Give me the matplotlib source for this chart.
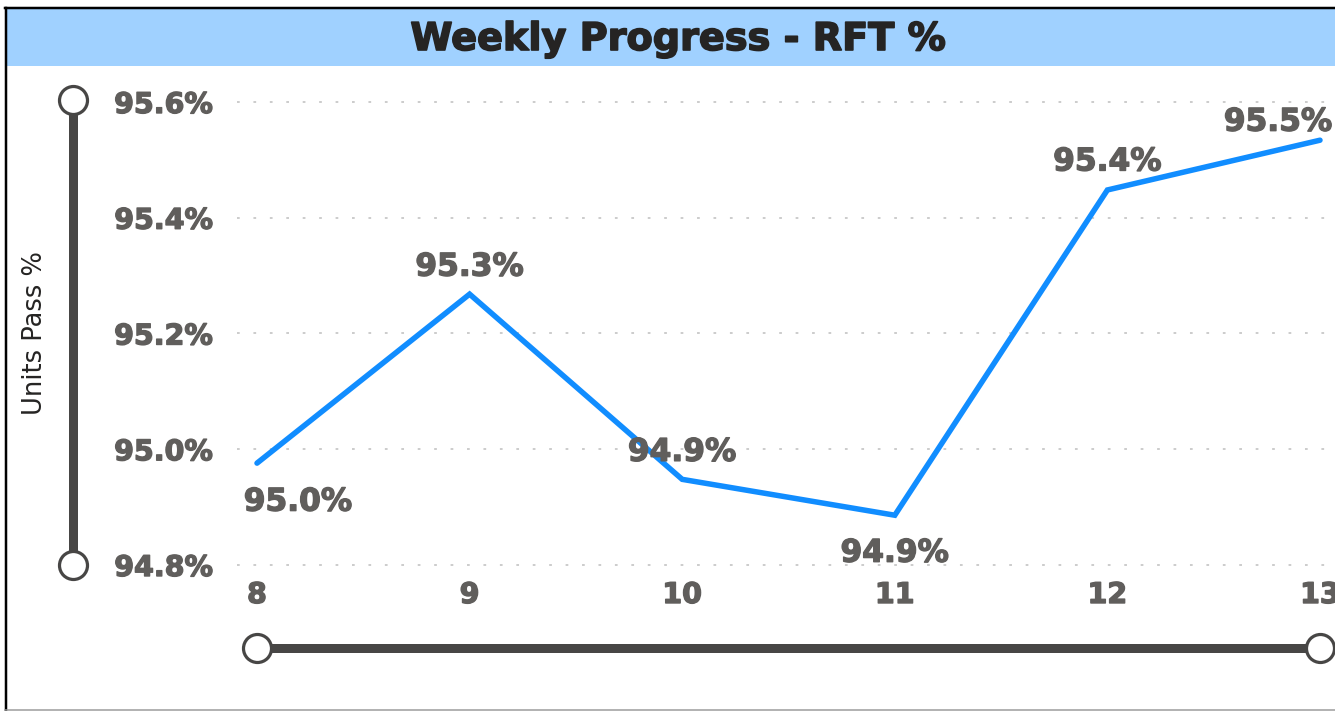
import matplotlib
matplotlib.use("Agg")
import matplotlib.pyplot as plt
import matplotlib.patheffects as pe
from matplotlib.lines import Line2D
from matplotlib.patches import Rectangle

weeks = [8, 9, 10, 11, 12, 13]
rft_pct = [94.976, 95.268, 94.948, 94.886, 95.448, 95.534]
label_texts = ["95.0%", "95.3%", "94.9%", "94.9%", "95.4%", "95.5%"]
y_ticks = [94.8, 95.0, 95.2, 95.4, 95.6]
title = "Weekly Progress - RFT %"
y_label = "Units Pass %"

W, H, DPI = 1335, 711, 100
fig = plt.figure(figsize=(W / DPI, H / DPI), dpi=DPI)
fig.patch.set_facecolor("white")

def fx(x):
    return x / W

def fy(y):
    return 1 - y / H

PT = 72 / DPI  # points per pixel
GRAY = "#605E5C"
heavy_gray = [pe.withStroke(linewidth=1.0, foreground=GRAY)]
heavy_dark = [pe.withStroke(linewidth=1.2, foreground="#252423")]

# border and title band
fig.add_artist(Rectangle((fx(6), fy(66)), fx(1335) - fx(6), fy(9) - fy(66),
                         transform=fig.transFigure, facecolor="#A0D1FF",
                         edgecolor="none", zorder=0))
fig.add_artist(Line2D([fx(5.5), fx(5.5)], [fy(8), fy(710)], transform=fig.transFigure,
                      color="black", lw=2.5 * PT))
fig.add_artist(Line2D([fx(5), fx(1340)], [fy(7.5), fy(7.5)], transform=fig.transFigure,
                      color="black", lw=2.5 * PT))
fig.add_artist(Line2D([fx(5), fx(1340)], [fy(709.5), fy(709.5)], transform=fig.transFigure,
                      color="#9a9a9a", lw=1.5 * PT))
fig.text(fx(679), fy(40), title, ha="center", va="center", fontsize=27.5,
         fontweight="bold", color="#252423", family="DejaVu Sans",
         path_effects=heavy_dark)

# axes layout
ax_l, ax_r, ax_t, ax_b = 237, 1335, 85, 580
x0_px, x1_px = 257, 1320
ytop_px, ybot_px = 102, 565
ax = fig.add_axes([fx(ax_l), fy(ax_b), fx(ax_r) - fx(ax_l), fy(ax_t) - fy(ax_b)])
xs_per_px = (weeks[-1] - weeks[0]) / (x1_px - x0_px)
ax.set_xlim(weeks[0] - (x0_px - ax_l) * xs_per_px, weeks[-1] + (ax_r - x1_px) * xs_per_px)
ys_per_px = (y_ticks[-1] - y_ticks[0]) / (ybot_px - ytop_px)
ax.set_ylim(y_ticks[0] - (ax_b - ybot_px) * ys_per_px, y_ticks[-1] + (ytop_px - ax_t) * ys_per_px)

for s in ax.spines.values():
    s.set_visible(False)
ax.set_facecolor("none")
ax.set_yticks(y_ticks)
ax.set_yticklabels([f"{v:.1f}%" for v in y_ticks])
ax.set_xticks(weeks)
ax.set_xticklabels([str(w) for w in weeks])
ax.tick_params(axis="y", length=0, pad=24 * PT, labelsize=20.5, labelcolor=GRAY)
ax.tick_params(axis="x", length=0, pad=1 * PT, labelsize=20.5, labelcolor=GRAY)
for lab in ax.get_xticklabels() + ax.get_yticklabels():
    lab.set_fontweight("bold")
    lab.set_clip_on(False)
    lab.set_path_effects(heavy_gray)
ax.grid(axis="y", color="#c8c8c8", linestyle=(0, (1.5, 7.6)), linewidth=1.3)
ax.grid(axis="x", visible=False)

ax.plot(weeks, rft_pct, color="#118DFF", lw=5.5 * PT, solid_capstyle="round",
        solid_joinstyle="miter", clip_on=False, zorder=3)

label_offsets_px = [(41, 39), (0, -27), (0, -27), (0, 38), (0, -28), (-42, -18)]
for w, v, t, (dx, dy) in zip(weeks, rft_pct, label_texts, label_offsets_px):
    ax.annotate(t, (w, v), xytext=(dx * PT, -dy * PT), textcoords="offset points",
                ha="center", va="center", fontsize=22.5, fontweight="bold",
                color=GRAY, annotation_clip=False, zorder=4,
                path_effects=heavy_gray)

# y-axis title
fig.text(fx(35), fy(333), y_label, rotation=90, ha="center", va="center",
         fontsize=18.5, color="#252423")

# sliders
slider_col = "#474645"
def slider(xa, ya, xb, yb):
    fig.add_artist(Line2D([fx(xa), fx(xb)], [fy(ya), fy(yb)], transform=fig.transFigure,
                          color=slider_col, lw=9 * PT, solid_capstyle="butt", zorder=5))
    fig.add_artist(Line2D([fx(xa), fx(xb)], [fy(ya), fy(yb)], transform=fig.transFigure,
                          linestyle="none", marker="o", markersize=28 * PT,
                          markerfacecolor="white", markeredgecolor=slider_col,
                          markeredgewidth=3.2 * PT, zorder=6))

slider(73, 100, 73, 565)
slider(257, 648, 1320, 648)

fig.savefig("out.png", dpi=DPI)
